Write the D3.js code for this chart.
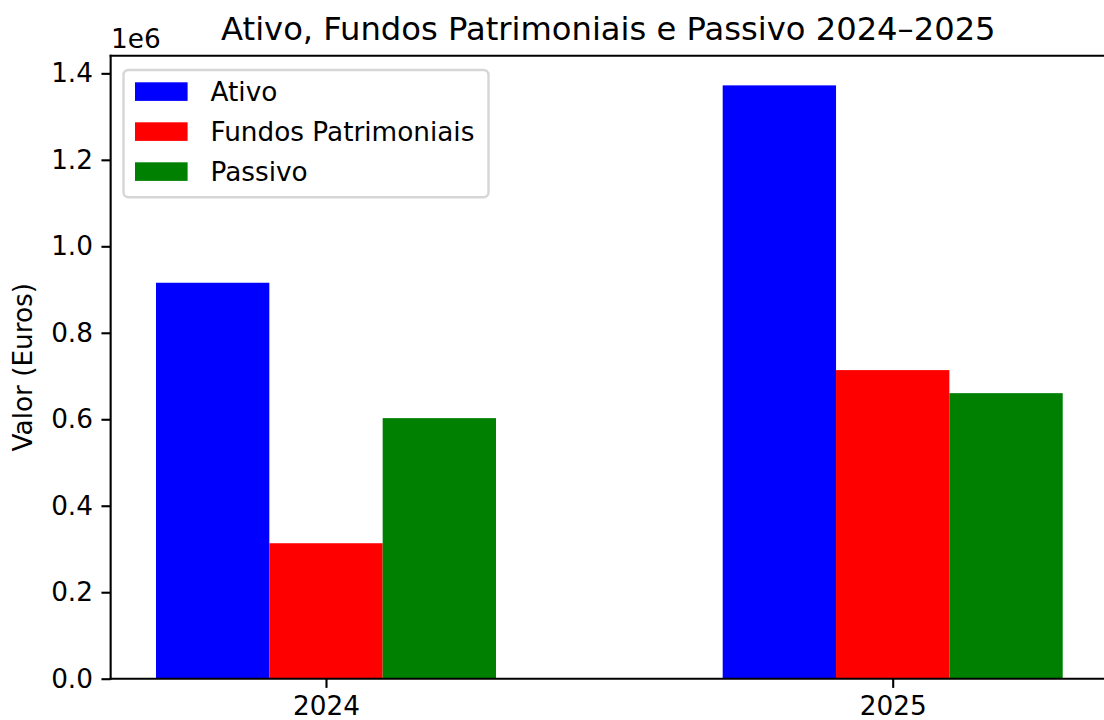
<!DOCTYPE html>
<html>
<head>
<meta charset="utf-8">
<script src="https://cdn.jsdelivr.net/npm/d3@7"></script>
<style>
  html, body { margin: 0; padding: 0; background: #fff; }
  svg { display: block; font-family: "DejaVu Sans", sans-serif; }
</style>
</head>
<body>
<svg id="chart" width="1104" height="720"></svg>
<script>
const years = ["2024", "2025"];
const seriesNames = ["Ativo", "Fundos Patrimoniais", "Passivo"];
const ativo = [915700, 1372200];
const fundos = [313300, 713700];
const passivo = [602600, 660400];
const yTicks = [0, 0.2e6, 0.4e6, 0.6e6, 0.8e6, 1.0e6, 1.2e6, 1.4e6];
const colors = ["#0000ff", "#ff0000", "#008000"];
const title = "Ativo, Fundos Patrimoniais e Passivo 2024\u20132025";
const yLabel = "Valor (Euros)";

const series = [ativo, fundos, passivo];
const svg = d3.select("#chart");

const axL = 110.65, axR = 1108.05, axT = 55.7, axB = 678.7;
const barW = 0.2;
const offsets = [-0.2, 0, 0.2];

const x = d3.scaleLinear().domain([-0.38, 1.38]).range([axL, axR]);
const maxVal = d3.max(series.flat());
const y = d3.scaleLinear().domain([0, maxVal * 1.05]).range([axB, axT]);

// bars
series.forEach((vals, si) => {
  svg.append("g").selectAll("rect").data(vals).join("rect")
    .attr("x", (d, i) => x(i + offsets[si] - barW / 2))
    .attr("width", (d, i) => x(i + offsets[si] + barW / 2) - x(i + offsets[si] - barW / 2))
    .attr("y", d => y(d))
    .attr("height", d => y(0) - y(d))
    .attr("fill", colors[si]);
});

// y axis
const yAxis = d3.axisLeft(y).tickValues(yTicks)
  .tickFormat(d => (d / 1e6).toFixed(1)).tickSize(9.2).tickPadding(8.5);
const gy = svg.append("g").attr("transform", `translate(${axL},0)`).call(yAxis);
gy.select(".domain").remove();
gy.selectAll(".tick line").attr("stroke", "#000").attr("stroke-width", 2.1);
gy.selectAll(".tick text").attr("font-size", 26.3).attr("fill", "#000")
  .attr("font-family", "DejaVu Sans");

// x axis
const xAxis = d3.axisBottom(x).tickValues([0, 1])
  .tickFormat(i => years[i]).tickSize(9.2).tickPadding(8.5);
const gx = svg.append("g").attr("transform", `translate(0,${axB})`).call(xAxis);
gx.select(".domain").remove();
gx.selectAll(".tick line").attr("stroke", "#000").attr("stroke-width", 2.1);
gx.selectAll(".tick text").attr("font-size", 26.3).attr("fill", "#000")
  .attr("font-family", "DejaVu Sans");

// spines
const sp = svg.append("g").attr("stroke", "#000").attr("stroke-width", 2.1).attr("fill", "none");
sp.append("line").attr("x1", axL).attr("x2", axL).attr("y1", axT - 1).attr("y2", axB + 1);
sp.append("line").attr("x1", axL - 1).attr("x2", axR).attr("y1", axB).attr("y2", axB);
sp.append("line").attr("x1", axL - 1).attr("x2", axR).attr("y1", axT).attr("y2", axT);
sp.append("line").attr("x1", axR).attr("x2", axR).attr("y1", axT).attr("y2", axB);

// offset text
svg.append("text").attr("x", 111).attr("y", 47.5).attr("font-size", 26.3)
  .attr("fill", "#000").text("1e6");

// title
svg.append("text").attr("x", (axL + axR) / 2 - 1).attr("y", 40)
  .attr("text-anchor", "middle").attr("font-size", 32.2).attr("fill", "#000").text(title);

// y label
svg.append("text").attr("transform", `translate(31.5,${(axT + axB) / 2}) rotate(-90)`)
  .attr("text-anchor", "middle").attr("font-size", 26.3).attr("fill", "#000").text(yLabel);

// legend
const lg = svg.append("g");
lg.append("rect").attr("x", 123.5).attr("y", 70).attr("width", 365).attr("height", 127.3)
  .attr("rx", 5).attr("fill", "#fff").attr("fill-opacity", 0.8)
  .attr("stroke", "#d6d6d6").attr("stroke-width", 2.4);
seriesNames.forEach((name, i) => {
  const cy = 91.6 + i * 40;
  lg.append("rect").attr("x", 135).attr("y", cy - 9.3).attr("width", 52.6).attr("height", 18.6)
    .attr("fill", colors[i]);
  lg.append("text").attr("x", 210.5).attr("y", cy + 9.2).attr("font-size", 26.3)
    .attr("fill", "#000").text(name);
});
</script>
</body>
</html>
